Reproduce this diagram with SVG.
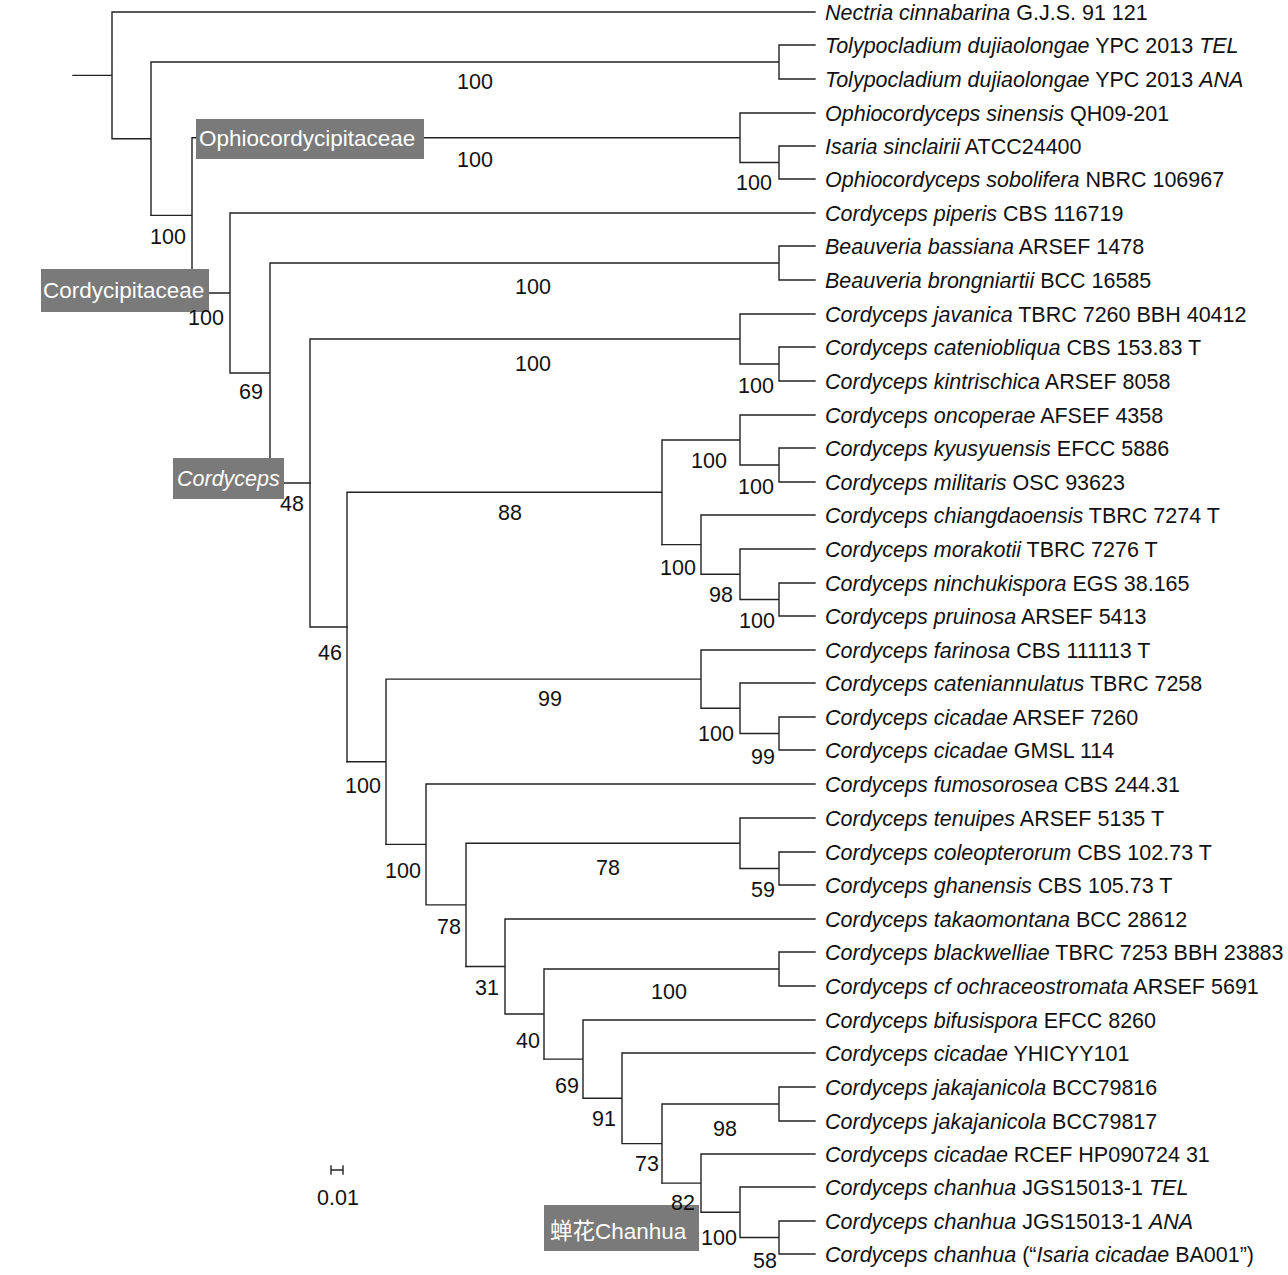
<svg xmlns="http://www.w3.org/2000/svg" width="1288" height="1275" viewBox="0 0 1288 1275">
<style>
.br{fill:none;stroke:#222;stroke-width:1.4;stroke-linecap:square}
.lf{font-family:"Liberation Sans",Arial,sans-serif;font-size:21.5px;fill:#111}
.i{font-style:italic}
.bs{font-family:"Liberation Sans",Arial,sans-serif;font-size:21.5px;fill:#111;text-anchor:middle}
.box{fill:#7a7a7a}
.bt{font-family:"Liberation Sans","Noto Sans CJK SC",Arial,sans-serif;font-size:22.5px;fill:#fff}
</style>
<rect width="1288" height="1275" fill="#fff"/>
<g id="connectors" class="br">
<path d="M73,75.4H112M112,12V138.7M112,12H815M112,138.7H151M151,62V215.4M151,62H779M779,45V79M779,45H815M779,79H815"/>
<path d="M151,215.4H192M192,137.75V293M192,137.75H740M740,113V162.5M740,113H815M740,162.5H779M779,146V179M779,146H815M779,179H815"/>
<path d="M192,293H230M230,213V373M230,213H815M230,373H270M270,263V483M270,263H779M779,246V280M779,246H815M779,280H815M270,483H310"/>
<path d="M310,339V627M310,339H740M740,314V364M740,314H815M740,364H779M779,347V381M779,347H815M779,381H815M310,627H347"/>
<path d="M347,492.3V761.8M347,492.3H662M662,440V544.6M662,440H740M740,415V465M740,415H815M740,465H779M779,448V482M779,448H815M779,482H815"/>
<path d="M662,544.6H701M701,515V574.25M701,515H815M701,574.25H740M740,549V599.5M740,549H815M740,599.5H779M779,583V616M779,583H815M779,616H815"/>
<path d="M347,761.8H386M386,679.1V844.4M386,679.1H701M701,650V708.25M701,650H815M701,708.25H740M740,683V733.5M740,683H815M740,733.5H779M779,717V750M779,717H815M779,750H815"/>
<path d="M386,844.4H426M426,784V904.9M426,784H815M426,904.9H466M466,843.25V966.5M466,843.25H740M740,818V868.5M740,818H815M740,868.5H779M779,852V885M779,852H815M779,885H815"/>
<path d="M466,966.5H505M505,919V1014M505,919H815M505,1014H544M544,969V1059.1M544,969H779M779,952V986M779,952H815M779,986H815"/>
<path d="M544,1059.1H583M583,1020V1098.3M583,1020H815M583,1098.3H622M622,1053V1143.6M622,1053H815M622,1143.6H662M662,1104V1183.1M662,1104H779M779,1087V1121M779,1087H815M779,1121H815"/>
<path d="M662,1183.1H701M701,1154V1212.25M701,1154H815M701,1212.25H740M740,1187V1237.5M740,1187H815M740,1237.5H779M779,1221V1254M779,1221H815M779,1254H815"/>
</g>
<g id="scale-bar">
<path class="br" d="M331,1170H343M331,1166V1174M343,1166V1174"/>
<text class="bs" x="338" y="1205">0.01</text>
</g>
<g id="clade-ophiocordycipitaceae"><rect class="box" x="196" y="119" width="228" height="40"/><text class="bt" x="199" y="146">Ophiocordycipitaceae</text></g>
<g id="clade-cordycipitaceae"><rect class="box" x="41" y="269" width="168" height="43"/><text class="bt" x="43" y="298">Cordycipitaceae</text></g>
<g id="clade-cordyceps"><rect class="box" x="173" y="458" width="111" height="41"/><text class="bt i" x="177" y="486" style="font-size:21.5px">Cordyceps</text></g>
<g id="clade-chanhua"><rect class="box" x="544" y="1205" width="155" height="46"/><text class="bt" x="550" y="1239">蝉花Chanhua</text></g>
<g id="support-values">
<text class="bs" x="475" y="89">100</text>
<text class="bs" x="475" y="167">100</text>
<text class="bs" x="754" y="190">100</text>
<text class="bs" x="168" y="244">100</text>
<text class="bs" x="206" y="325">100</text>
<text class="bs" x="533" y="294">100</text>
<text class="bs" x="251" y="399">69</text>
<text class="bs" x="533" y="371">100</text>
<text class="bs" x="756" y="393">100</text>
<text class="bs" x="292" y="511">48</text>
<text class="bs" x="709" y="468">100</text>
<text class="bs" x="756" y="494">100</text>
<text class="bs" x="510" y="520">88</text>
<text class="bs" x="678" y="575">100</text>
<text class="bs" x="721" y="602">98</text>
<text class="bs" x="757" y="628">100</text>
<text class="bs" x="330" y="660">46</text>
<text class="bs" x="550" y="706">99</text>
<text class="bs" x="716" y="741">100</text>
<text class="bs" x="763" y="764">99</text>
<text class="bs" x="363" y="793">100</text>
<text class="bs" x="403" y="878">100</text>
<text class="bs" x="608" y="875">78</text>
<text class="bs" x="763" y="897">59</text>
<text class="bs" x="449" y="934">78</text>
<text class="bs" x="487" y="995">31</text>
<text class="bs" x="669" y="999">100</text>
<text class="bs" x="528" y="1048">40</text>
<text class="bs" x="567" y="1093">69</text>
<text class="bs" x="604" y="1126">91</text>
<text class="bs" x="725" y="1136">98</text>
<text class="bs" x="647" y="1171">73</text>
<text class="bs" x="683" y="1210">82</text>
<text class="bs" x="719" y="1245">100</text>
<text class="bs" x="765" y="1268">58</text>
</g>
<g id="leaf-00"><text class="lf" x="825" y="20"><tspan class="i">Nectria cinnabarina</tspan> G.J.S. 91 121</text></g>
<g id="leaf-01"><text class="lf" x="825" y="53"><tspan class="i">Tolypocladium dujiaolongae</tspan> YPC 2013 <tspan class="i">TEL</tspan></text></g>
<g id="leaf-02"><text class="lf" x="825" y="87"><tspan class="i">Tolypocladium dujiaolongae</tspan> YPC 2013 <tspan class="i">ANA</tspan></text></g>
<g id="leaf-03"><text class="lf" x="825" y="121"><tspan class="i">Ophiocordyceps sinensis</tspan> QH09-201</text></g>
<g id="leaf-04"><text class="lf" x="825" y="154"><tspan class="i">Isaria sinclairii</tspan> ATCC24400</text></g>
<g id="leaf-05"><text class="lf" x="825" y="187"><tspan class="i">Ophiocordyceps sobolifera</tspan> NBRC 106967</text></g>
<g id="leaf-06"><text class="lf" x="825" y="221"><tspan class="i">Cordyceps piperis</tspan> CBS 116719</text></g>
<g id="leaf-07"><text class="lf" x="825" y="254"><tspan class="i">Beauveria bassiana</tspan> ARSEF 1478</text></g>
<g id="leaf-08"><text class="lf" x="825" y="288"><tspan class="i">Beauveria brongniartii</tspan> BCC 16585</text></g>
<g id="leaf-09"><text class="lf" x="825" y="322"><tspan class="i">Cordyceps javanica</tspan> TBRC 7260 BBH 40412</text></g>
<g id="leaf-10"><text class="lf" x="825" y="355"><tspan class="i">Cordyceps cateniobliqua</tspan> CBS 153.83 T</text></g>
<g id="leaf-11"><text class="lf" x="825" y="389"><tspan class="i">Cordyceps kintrischica</tspan> ARSEF 8058</text></g>
<g id="leaf-12"><text class="lf" x="825" y="423"><tspan class="i">Cordyceps oncoperae</tspan> AFSEF 4358</text></g>
<g id="leaf-13"><text class="lf" x="825" y="456"><tspan class="i">Cordyceps kyusyuensis</tspan> EFCC 5886</text></g>
<g id="leaf-14"><text class="lf" x="825" y="490"><tspan class="i">Cordyceps militaris</tspan> OSC 93623</text></g>
<g id="leaf-15"><text class="lf" x="825" y="523"><tspan class="i">Cordyceps chiangdaoensis</tspan> TBRC 7274 T</text></g>
<g id="leaf-16"><text class="lf" x="825" y="557"><tspan class="i">Cordyceps morakotii</tspan> TBRC 7276 T</text></g>
<g id="leaf-17"><text class="lf" x="825" y="591"><tspan class="i">Cordyceps ninchukispora</tspan> EGS 38.165</text></g>
<g id="leaf-18"><text class="lf" x="825" y="624"><tspan class="i">Cordyceps pruinosa</tspan> ARSEF 5413</text></g>
<g id="leaf-19"><text class="lf" x="825" y="658"><tspan class="i">Cordyceps farinosa</tspan> CBS 111113 T</text></g>
<g id="leaf-20"><text class="lf" x="825" y="691"><tspan class="i">Cordyceps cateniannulatus</tspan> TBRC 7258</text></g>
<g id="leaf-21"><text class="lf" x="825" y="725"><tspan class="i">Cordyceps cicadae</tspan> ARSEF 7260</text></g>
<g id="leaf-22"><text class="lf" x="825" y="758"><tspan class="i">Cordyceps cicadae</tspan> GMSL 114</text></g>
<g id="leaf-23"><text class="lf" x="825" y="792"><tspan class="i">Cordyceps fumosorosea</tspan> CBS 244.31</text></g>
<g id="leaf-24"><text class="lf" x="825" y="826"><tspan class="i">Cordyceps tenuipes</tspan> ARSEF 5135 T</text></g>
<g id="leaf-25"><text class="lf" x="825" y="860"><tspan class="i">Cordyceps coleopterorum</tspan> CBS 102.73 T</text></g>
<g id="leaf-26"><text class="lf" x="825" y="893"><tspan class="i">Cordyceps ghanensis</tspan> CBS 105.73 T</text></g>
<g id="leaf-27"><text class="lf" x="825" y="927"><tspan class="i">Cordyceps takaomontana</tspan> BCC 28612</text></g>
<g id="leaf-28"><text class="lf" x="825" y="960"><tspan class="i">Cordyceps blackwelliae</tspan> TBRC 7253 BBH 23883</text></g>
<g id="leaf-29"><text class="lf" x="825" y="994"><tspan class="i">Cordyceps cf ochraceostromata</tspan> ARSEF 5691</text></g>
<g id="leaf-30"><text class="lf" x="825" y="1028"><tspan class="i">Cordyceps bifusispora</tspan> EFCC 8260</text></g>
<g id="leaf-31"><text class="lf" x="825" y="1061"><tspan class="i">Cordyceps cicadae</tspan> YHICYY101</text></g>
<g id="leaf-32"><text class="lf" x="825" y="1095"><tspan class="i">Cordyceps jakajanicola</tspan> BCC79816</text></g>
<g id="leaf-33"><text class="lf" x="825" y="1129"><tspan class="i">Cordyceps jakajanicola</tspan> BCC79817</text></g>
<g id="leaf-34"><text class="lf" x="825" y="1162"><tspan class="i">Cordyceps cicadae</tspan> RCEF HP090724 31</text></g>
<g id="leaf-35"><text class="lf" x="825" y="1195"><tspan class="i">Cordyceps chanhua</tspan> JGS15013-1 <tspan class="i">TEL</tspan></text></g>
<g id="leaf-36"><text class="lf" x="825" y="1229"><tspan class="i">Cordyceps chanhua</tspan> JGS15013-1 <tspan class="i">ANA</tspan></text></g>
<g id="leaf-37"><text class="lf" x="825" y="1262"><tspan class="i">Cordyceps chanhua</tspan> (“<tspan class="i">Isaria cicadae</tspan> BA001”)</text></g>
</svg>
